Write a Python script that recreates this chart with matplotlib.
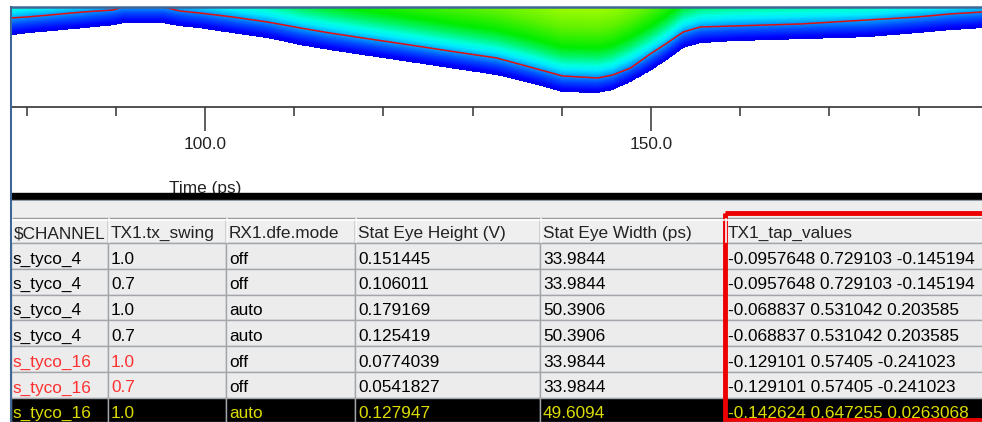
import numpy as np
import matplotlib
matplotlib.use('Agg')
import matplotlib.pyplot as plt
from matplotlib.colors import LinearSegmentedColormap
from matplotlib.patches import Rectangle
from matplotlib.ticker import MultipleLocator, FormatStrFormatter

plt.rcParams['font.family'] = ['Liberation Sans', 'DejaVu Sans']

# eye diagram (lower edge of the density and the contour line)
eye_t = [78.25, 80.0, 82.6, 86.3, 89.7, 90.8, 95.3, 97.2, 99.4, 103.1, 107.0, 110.7,
         114.0, 117.7, 121.5, 125.2, 128.9, 132.7, 136.4, 140.1, 144.0, 145.7, 147.7,
         149.9, 151.8, 153.6, 155.5, 159.2, 166.7, 174.2, 179.8, 183.5, 187.1]
eye_lower = [72, 74, 76, 79, 82, 84, 84, 81, 79, 74, 69, 62,
             57, 52, 47, 42, 37, 32, 24, 15, 14, 17, 25,
             36, 47, 59, 64, 66, 68, 70, 74, 77, 79]
eye_contour = [89, 90, 92, 95, 97, 100, 100, 96, 94, 90, 85, 79,
               74, 69, 64, 59, 54, 49, 40, 31, 29, 32, 39,
               53, 64, 75, 80, 81, 83, 87, 90, 93, 95]

# table
headers = ['\\$CHANNEL', 'TX1.tx_swing', 'RX1.dfe.mode', 'Stat Eye Height (V)',
           'Stat Eye Width (ps)', 'TX1_tap_values']
channel = ['s_tyco_4', 's_tyco_4', 's_tyco_4', 's_tyco_4', 's_tyco_16', 's_tyco_16', 's_tyco_16']
tx_swing = ['1.0', '0.7', '1.0', '0.7', '1.0', '0.7', '1.0']
dfe_mode = ['off', 'off', 'auto', 'auto', 'off', 'off', 'auto']
eye_height = ['0.151445', '0.106011', '0.179169', '0.125419', '0.0774039', '0.0541827', '0.127947']
eye_width = ['33.9844', '33.9844', '50.3906', '50.3906', '33.9844', '33.9844', '49.6094']
tap_values = ['-0.0957648 0.729103 -0.145194', '-0.0957648 0.729103 -0.145194',
              '-0.068837 0.531042 0.203585', '-0.068837 0.531042 0.203585',
              '-0.129101 0.57405 -0.241023', '-0.129101 0.57405 -0.241023',
              '-0.142624 0.647255 0.0263068']

W, H = 982, 422
fig = plt.figure(figsize=(W / 100, H / 100), dpi=100)
fig.patch.set_facecolor('white')

# ---- eye plot ----
ax = fig.add_axes([11 / W, (H - 107) / H, (W - 11) / W, 100 / H])
t0, t1 = 78.25, 187.1
tt = np.linspace(t0, t1, 1200)
yy = np.linspace(0, 100, 400)
T, Y = np.meshgrid(tt, yy)
d = Y - np.interp(T, eye_t, eye_lower)
d = np.ma.masked_less(d, 0)

eye_cmap = LinearSegmentedColormap.from_list('eye', [
    (0.0, (0.0, 0.0, 0.9)), (0.03, (0.0, 0.0, 1.0)), (0.11, (0.0, 0.28, 1.0)),
    (0.18, (0.0, 0.6, 1.0)), (0.25, (0.0, 0.92, 1.0)), (0.30, (0.0, 1.0, 0.88)),
    (0.40, (0.0, 0.96, 0.4)), (0.50, (0.0, 0.93, 0.0)), (0.72, (0.38, 0.95, 0.0)),
    (1.0, (0.68, 1.0, 0.0))])
eye_cmap.set_bad('white')
ax.imshow(d, cmap=eye_cmap, vmin=0, vmax=90, origin='lower', aspect='auto',
          extent=[t0, t1, 0, 100], interpolation='nearest')
ax.plot(eye_t, eye_contour, color='#e01010', lw=1.1)
ax.set_xlim(t0, t1)
ax.set_ylim(0, 100)
ax.set_yticks([])
for s in ['top', 'left', 'right']:
    ax.spines[s].set_visible(False)
ax.spines['bottom'].set_color('#333333')
ax.spines['bottom'].set_linewidth(1.2)
ax.xaxis.set_major_locator(MultipleLocator(50))
ax.xaxis.set_minor_locator(MultipleLocator(10))
ax.xaxis.set_major_formatter(FormatStrFormatter('%.1f'))
ax.tick_params(axis='x', which='major', length=17, width=1.1, color='#333333',
               labelsize=12.4, labelcolor='#222222', pad=4.5)
ax.tick_params(axis='x', which='minor', length=6.5, width=1.1, color='#333333')
ax.set_xlabel('Time (ps)', fontsize=12.4, color='#222222')
ax.xaxis.set_label_coords((205 - 11) / (W - 11), -0.74)

# ---- table / frame ----
tb = fig.add_axes([0, 0, 1, 1], zorder=5)
tb.set_xlim(0, W)
tb.set_ylim(H, 0)
tb.axis('off')
tb.patch.set_alpha(0)

tb.add_patch(Rectangle((11, 193), W, 6.5, color='black'))
tb.add_patch(Rectangle((11, 199.5), W, 1.5, color='#7a8796'))
tb.add_patch(Rectangle((11, 201), W, 17, color='#eeeeee'))

col_x = [11, 108, 226, 355, 540, 725, W + 40]
head_top, head_bot = 218, 243
row_h = 25.8
fs = 12.4

for j, h in enumerate(headers):
    x0, x1 = col_x[j], col_x[j + 1]
    tb.add_patch(Rectangle((x0, head_top), x1 - x0, head_bot - head_top,
                           facecolor='#efefef', edgecolor='#9a9a9a', lw=1.0))
    tb.plot([x0 + 1.5, x0 + 1.5], [head_top + 1, head_bot - 1], color='white', lw=1.2)
    tb.plot([x0 + 1, x1 - 1], [head_top + 1.5, head_top + 1.5], color='white', lw=1.2)
    tb.text(x0 + 3, head_top + 20, h, fontsize=fs, color='#222222', va='baseline')

columns = [channel, tx_swing, dfe_mode, eye_height, eye_width, tap_values]
for i in range(len(channel)):
    y0 = head_bot + i * row_h
    selected = i == len(channel) - 1
    for j, col in enumerate(columns):
        x0, x1 = col_x[j], col_x[j + 1]
        tb.add_patch(Rectangle((x0, y0), x1 - x0, row_h,
                               facecolor='black' if selected else '#ececec',
                               edgecolor='#a2a6ab', lw=1.0))
        if selected:
            c = '#dcdc00'
        elif channel[i] == 's_tyco_16' and j < 2:
            c = '#ff3030'
        else:
            c = 'black'
        tb.text(x0 + (1.5 if j == 0 else 3), y0 + 20.5, col[i], fontsize=fs,
                color=c, va='baseline')

# highlight frame
tb.add_patch(Rectangle((725, 212.5), 300, 207.5, fill=False, edgecolor='#ee0000', lw=3.5))

# window borders
tb.plot([11, 11], [7, H], color='#3f6796', lw=1.5)
tb.plot([11, W], [7, 7], color='#3f6796', lw=1.8)
tb.plot([11, W], [421.5, 421.5], color='#6a7d93', lw=1.0)

fig.savefig('out.png', dpi=100)
